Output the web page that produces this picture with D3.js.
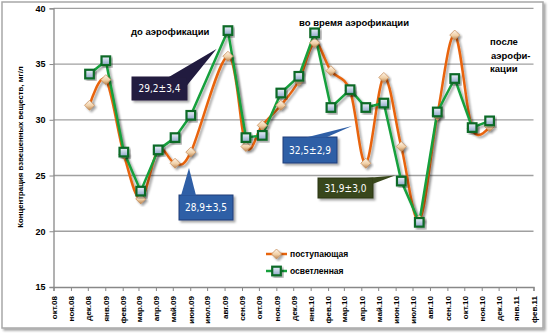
<!DOCTYPE html>
<html><head><meta charset="utf-8">
<script src="https://cdn.jsdelivr.net/npm/d3@7"></script>
<style>
html,body{margin:0;padding:0;background:#fff;}
svg{display:block;font-family:"Liberation Sans",Arial,sans-serif;}
</style></head>
<body>
<svg id="chart" width="549" height="333"></svg>
<script>
// ---- data ----
const tickLabels = ["окт.08","ноя.08","дек.08","янв.09","фев.09","мар.09","апр.09","май.09","июн.09","июл.09","авг.09","сен.09","окт.09","ноя.09","дек.09","янв.10","фев.10","мар.10","апр.10","май.10","июн.10","июл.10","авг.10","сен.10","окт.10","ноя.10","дек.10","янв.11","фев.11"];
const sampleDates = ["2008-12-04","2009-01-02","2009-02-03","2009-03-05","2009-04-05","2009-05-05","2009-06-02","2009-08-07","2009-09-08","2009-10-07","2009-11-09","2009-12-11","2010-01-08","2010-02-06","2010-03-12","2010-04-09","2010-05-11","2010-06-11","2010-07-13","2010-08-14","2010-09-14","2010-10-15","2010-11-15"];
const incoming = [31.3,33.6,26.9,22.9,27.3,26.1,27.1,35.7,27.6,29.5,31.3,33.5,36.9,34.4,32.6,26.1,33.8,27.6,21.0,30.4,37.6,29.2,29.4];
const clarified = [34.1,35.3,27.1,23.6,27.3,28.4,30.4,38.0,28.4,28.6,32.4,33.9,37.8,31.1,32.7,31.1,31.5,24.5,20.8,30.7,33.7,29.3,29.9];
const seriesNames = ["поступающая","осветленная"];
const yTicks = [15,20,25,30,35,40];
const phaseDates = ["2009-08-30","2010-10-28"];
const phaseLabels = ["до аэрофикации","во время аэрофикации"];
const callouts = [
  {text:"29,2±3,4"},{text:"28,9±3,5"},{text:"32,5±2,9"},{text:"31,9±3,0"}
];

const parse = d3.timeParse("%Y-%m-%d");
const dates = sampleDates.map(parse);
const svg = d3.select("#chart");

const defs = svg.append("defs");
const f = defs.append("filter").attr("id","sh").attr("x","-20%").attr("y","-20%").attr("width","150%").attr("height","150%");
f.append("feDropShadow").attr("dx",2).attr("dy",2).attr("stdDeviation",1.2).attr("flood-color","#000").attr("flood-opacity",0.35);
const gd = defs.append("linearGradient").attr("id","gDia").attr("x1",0).attr("y1",0).attr("x2",0).attr("y2",1);
gd.append("stop").attr("offset","0%").attr("stop-color","#fff6ea");
gd.append("stop").attr("offset","55%").attr("stop-color","#f0cfa6");
gd.append("stop").attr("offset","100%").attr("stop-color","#b8824c");
const gs = defs.append("linearGradient").attr("id","gSq").attr("x1",0).attr("y1",0).attr("x2",0).attr("y2",1);
gs.append("stop").attr("offset","0%").attr("stop-color","#eef3fb");
gs.append("stop").attr("offset","100%").attr("stop-color","#8ea6c8");

// border
svg.append("rect").attr("x",2).attr("y",2).attr("width",541).attr("height",326)
  .attr("fill","#fff").attr("stroke","#a8a8a8").attr("stroke-width",1.5).attr("filter","url(#sh)");

const x = d3.scaleTime().domain([new Date(2008,9,1), new Date(2011,1,1)]).range([53.5,533.5]);
const y = d3.scaleLinear().domain([15,40]).range([287,8.3]);

// gridlines
svg.append("g").selectAll("line").data(yTicks.filter(d=>d>15)).join("line")
  .attr("x1",53.5).attr("x2",533.5).attr("y1",d=>y(d)).attr("y2",d=>y(d))
  .attr("stroke","#a0a0a0").attr("stroke-width",1.3);

// y axis
const ya = svg.append("g").attr("transform","translate(53.5,0)")
  .call(d3.axisLeft(y).tickValues(yTicks).tickSize(4).tickPadding(4).tickFormat(d3.format("d")));
ya.select(".domain").attr("stroke","#888").attr("stroke-width",1.3);
ya.selectAll(".tick line").attr("stroke","#888");
ya.selectAll("text").attr("font-size",9).attr("font-weight","bold").attr("fill","#000");

// x axis
const months = d3.timeMonth.range(new Date(2008,9,1), new Date(2011,1,2));
const xa = svg.append("g").attr("transform","translate(0,287)")
  .call(d3.axisBottom(x).tickValues(months).tickSize(4).tickFormat((d,i)=>tickLabels[i]));
xa.select(".domain").attr("stroke","#888").attr("stroke-width",1.3);
xa.selectAll(".tick line").attr("stroke","#888");
xa.selectAll("text").attr("font-size",8).attr("font-weight","bold").attr("fill","#000")
  .attr("transform","rotate(-90)").attr("text-anchor","end").attr("x",-9).attr("y",0).attr("dy","0.35em");

// y label
svg.append("text").attr("transform","translate(23,147) rotate(-90)").attr("text-anchor","middle")
  .attr("font-size",7.8).attr("font-weight","bold").text("Концентрация взвешенных веществ, мг/л");

// phase lines
svg.append("g").selectAll("line").data(phaseDates.map(parse)).join("line")
  .attr("x1",d=>x(d)).attr("x2",d=>x(d)).attr("y1",y(40)).attr("y2",y(21.3))
  .attr("stroke","#ff0000").attr("stroke-width",1).attr("filter","url(#sh)");

// phase labels
svg.append("text").attr("x",131).attr("y",35).attr("font-size",9.5).attr("font-weight","bold").text(phaseLabels[0]);
svg.append("text").attr("x",299).attr("y",26).attr("font-size",9.5).attr("font-weight","bold").text(phaseLabels[1]);
const pl = svg.append("text").attr("x",490).attr("y",45).attr("font-size",9.5).attr("font-weight","bold");
pl.append("tspan").attr("x",490).text("после");
pl.append("tspan").attr("x",491).attr("dy",13.5).text("аэрофи-");
pl.append("tspan").attr("x",490).attr("dy",13.5).text("кации");

// lines
const orangePts = dates.map((d,i)=>[d,incoming[i]]);
const greenPts = dates.map((d,i)=>[d,clarified[i]]);
const lo = d3.line().x(d=>x(d[0])).y(d=>y(d[1])).curve(d3.curveCatmullRom.alpha(0));
const lg = d3.line().x(d=>x(d[0])).y(d=>y(d[1]));
svg.append("path").attr("d",lo(orangePts)).attr("fill","none").attr("stroke","#e8640c").attr("stroke-width",2.5).attr("filter","url(#sh)");
svg.append("path").attr("d",lg(greenPts)).attr("fill","none").attr("stroke","#16a03c").attr("stroke-width",2.5).attr("stroke-linejoin","round").attr("filter","url(#sh)");

function diamond(g,cx,cy){
  g.append("path").attr("d",`M${cx},${cy-5}L${cx+5},${cy}L${cx},${cy+5}L${cx-5},${cy}Z`)
    .attr("fill","url(#gDia)").attr("stroke","#c89060").attr("stroke-width",0.8).attr("filter","url(#sh)");
}
function square(g,cx,cy){
  g.append("rect").attr("x",cx-4.3).attr("y",cy-4.3).attr("width",8.6).attr("height",8.6)
    .attr("fill","url(#gSq)").attr("stroke","#0b6a28").attr("stroke-width",2.2).attr("filter","url(#sh)");
}
const mo = svg.append("g");
orangePts.forEach(p=>diamond(mo,x(p[0]),y(p[1])));
const mg = svg.append("g");
greenPts.forEach(p=>square(mg,x(p[0]),y(p[1])));

// callouts (box + pointer) in pixel layout
function callout(box, wedge, fill, stroke, text){
  const [x0,y0,x1,y1] = box;
  const g = svg.append("g");
  g.append("rect").attr("x",x0).attr("y",y0).attr("width",x1-x0).attr("height",y1-y0)
    .attr("fill",fill).attr("stroke",stroke).attr("stroke-width",1).attr("filter","url(#sh)");
  g.append("path").attr("d","M"+wedge.map(p=>p.join(",")).join("L")+"Z").attr("fill",fill);
  g.append("text").attr("x",(x0+x1)/2).attr("y",(y0+y1)/2).attr("dy","0.35em").attr("text-anchor","middle")
    .attr("font-size",10).attr("fill","#fff").attr("font-family","'DejaVu Sans Condensed','Liberation Sans',sans-serif").text(text);
}
callout([132,77,187,100],[[168,77.5],[186.5,77.5],[186.5,86],[216.5,49]],"#211b3f","#211b3f",callouts[0].text);
callout([179,195,233,220],[[181,195.5],[196,195.5],[189,168]],"#2f5fa6","#1f3f78",callouts[1].text);
callout([283,137,337,163],[[306,137.5],[326,137.5],[352,126]],"#2f5fa6","#1f3f78",callouts[2].text);
callout([318,178,373,198],[[360,178.5],[372.5,178.5],[372.5,184],[395,175.5]],"#38471b","#2a3612",callouts[3].text);

// legend
const leg = svg.append("g");
[[0,"#e8640c"],[1,"#16a03c"]].forEach(([i,c])=>{
  const yy = 254 + i*17;
  leg.append("line").attr("x1",266).attr("x2",287).attr("y1",yy).attr("y2",yy).attr("stroke",c).attr("stroke-width",2.5);
  if(i===0) diamond(leg,276.5,yy); else square(leg,276.5,yy);
  leg.append("text").attr("x",290).attr("y",yy).attr("dy","0.35em").attr("font-size",8.5).attr("font-weight","bold").text(seriesNames[i]);
});
</script>
</body></html>
